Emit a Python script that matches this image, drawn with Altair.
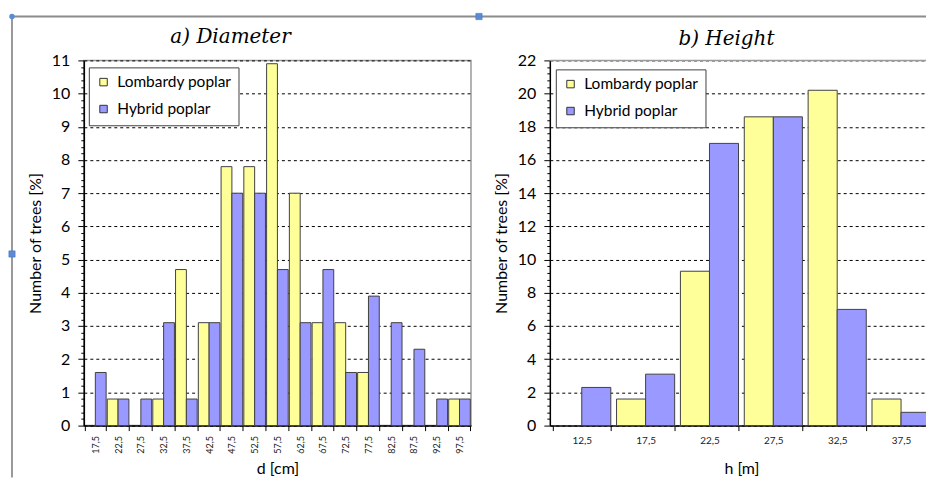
import altair as alt
import pandas as pd

series = ["Lombardy poplar", "Hybrid poplar"]
colors = ["#FFFF99", "#9999FF"]

d_bins = ["17,5", "22,5", "27,5", "32,5", "37,5", "42,5", "47,5", "52,5", "57,5",
          "62,5", "67,5", "72,5", "77,5", "82,5", "87,5", "92,5", "97,5"]
d_lombardy = [0, 0.8, 0, 0.8, 4.7, 3.1, 7.8, 7.8, 10.9, 7.0, 3.1, 3.1, 1.6, 0, 0, 0, 0.8]
d_hybrid = [1.6, 0.8, 0.8, 3.1, 0.8, 3.1, 7.0, 7.0, 4.7, 3.1, 4.7, 1.6, 3.9, 3.1, 2.3, 0.8, 0.8]

h_bins = ["12,5", "17,5", "22,5", "27,5", "32,5", "37,5"]
h_lombardy = [0, 1.6, 9.3, 18.6, 20.2, 1.6]
h_hybrid = [2.3, 3.1, 17.0, 18.6, 7.0, 0.8]


def long_df(bins, a, b):
    rows = []
    for i, k in enumerate(bins):
        rows.append({"bin": k, "series": series[0], "value": a[i]})
        rows.append({"bin": k, "series": series[1], "value": b[i]})
    return pd.DataFrame(rows)


d_df = long_df(d_bins, d_lombardy, d_hybrid)
h_df = long_df(h_bins, h_lombardy, h_hybrid)

LABEL_FONT = "Lato"
RIGHT_W = 384


def legend(x, y):
    return alt.Legend(orient="none", legendX=x, legendY=y, title=None,
                      fillColor="white", strokeColor="#404040",
                      padding=7, rowPadding=10, symbolType="square", symbolSize=56,
                      symbolStrokeColor="#333333", symbolStrokeWidth=1,
                      labelOffset=6, labelFont=LABEL_FONT, labelFontSize=15.5,
                      labelColor="black", labelLimit=300)


def y_axis(step, major, maxv):
    n = int(round(maxv / step)) + 1
    vals = [round(i * step, 1) for i in range(n)]
    test = f"datum.value % {major} == 0"
    return alt.Axis(values=vals,
                    labelExpr=f"{test} ? format(datum.value, 'd') : ''",
                    tickSize=alt.condition(test, alt.value(6), alt.value(3)),
                    gridOpacity=alt.condition(test, alt.value(1), alt.value(0)),
                    grid=True, gridColor="black", gridDash=[3, 3], gridWidth=1,
                    tickColor="black", tickWidth=1, domainColor="black", domainWidth=1.5,
                    labelFont=LABEL_FONT, labelFontSize=16, labelColor="black",
                    labelPadding=8, title="Number of trees  [%]",
                    titleFont=LABEL_FONT, titleFontSize=16, titleFontWeight="normal",
                    titleColor="black", titlePadding=8)


def bars(df, bins, ymax, ystep, ymajor, xtitle, rotate, pin, pout, lx, ly, lblsize):
    return alt.Chart(df).transform_filter("datum.value > 0").mark_bar(
        stroke="#404040", strokeWidth=1
    ).encode(
        x=alt.X("bin:N", sort=bins, title=xtitle,
                scale=alt.Scale(paddingInner=pin, paddingOuter=pout),
                axis=alt.Axis(tickBand="extent", labelAngle=270 if rotate else 0,
                              tickSize=5, tickColor="black", domainColor="black",
                              domainWidth=1.5, grid=False,
                              labelFont=LABEL_FONT, labelFontSize=lblsize,
                              labelColor="#222222", labelPadding=5,
                              titleFont=LABEL_FONT, titleFontSize=16,
                              titleFontWeight="normal", titleColor="black",
                              titleY=48, titleBaseline="alphabetic")),
        xOffset=alt.XOffset("series:N", sort=series,
                            scale=alt.Scale(paddingInner=0, paddingOuter=0)),
        y=alt.Y("value:Q", scale=alt.Scale(domain=[0, ymax], nice=False),
                axis=y_axis(ystep, ymajor, ymax)),
        color=alt.Color("series:N", sort=series,
                        scale=alt.Scale(domain=series, range=colors),
                        legend=legend(lx, ly)),
    )


one = pd.DataFrame({"k": [0]})
deco_h = alt.Chart(one).mark_rule(color="#8c8c8c", strokeWidth=2).encode(
    x=alt.value(-72), x2=alt.value(852), y=alt.value(-44))
deco_v = alt.Chart(one).mark_rule(color="#333333", strokeWidth=1).encode(
    x=alt.value(-72), y=alt.value(-44), y2=alt.value(418))
deco_c = alt.Chart(one).mark_circle(color="#5b8ad6", size=30, opacity=1).encode(
    x=alt.value(-72), y=alt.value(-44))
deco_s1 = alt.Chart(one).mark_square(color="#5b8ad6", size=40, opacity=1,
                                     stroke="#3d6fc0", strokeWidth=0.5).encode(
    x=alt.value(396), y=alt.value(-44))
deco_s2 = alt.Chart(one).mark_square(color="#5b8ad6", size=40, opacity=1,
                                     stroke="#3d6fc0", strokeWidth=0.5).encode(
    x=alt.value(-72), y=alt.value(194))

left = alt.layer(
    bars(d_df, d_bins, 11, 0.2, 1, "d [cm]", True, 0.05, 0.03, 5, 7, 9),
    deco_h, deco_v, deco_c, deco_s1, deco_s2,
).properties(
    width=388, height=366,
    title=alt.TitleParams("a) Diameter", font="DejaVu Serif", fontStyle="italic",
                          fontWeight="normal", fontSize=20, color="black",
                          anchor="middle", dx=-47, offset=-35),
    view=alt.ViewBackground(stroke="#9a9a9a", strokeWidth=1.5),
)

# right panel: its right border lies beyond the picture edge, so only the top border is drawn
top_border = alt.Chart(one).mark_rule(color="#9a9a9a", strokeWidth=1.5).encode(
    x=alt.value(0), x2=alt.value(RIGHT_W), y=alt.value(0))

right = alt.layer(
    bars(h_df, h_bins, 22, 0.4, 2, "h [m]", False, 0.09, 0.045, 6, 9, 10),
    top_border,
).properties(
    width=RIGHT_W, height=366,
    title=alt.TitleParams("b) Height", font="DejaVu Serif", fontStyle="italic",
                          fontWeight="normal", fontSize=20, color="black",
                          anchor="middle", dx=-15, offset=3),
    view=alt.ViewBackground(stroke=None),
)

# the page body is 918px wide; the chart's right edge is clipped there instead of shrinking
chart = alt.hconcat(left, right, spacing=79, bounds="flush").resolve_scale(
    color="independent", xOffset="independent", x="independent"
).resolve_legend(color="independent").properties(
    padding={"left": -1, "top": 3, "right": -10, "bottom": 0},
    background="white",
)

chart.save("out.html", embed_options={"renderer": "svg", "actions": False})
